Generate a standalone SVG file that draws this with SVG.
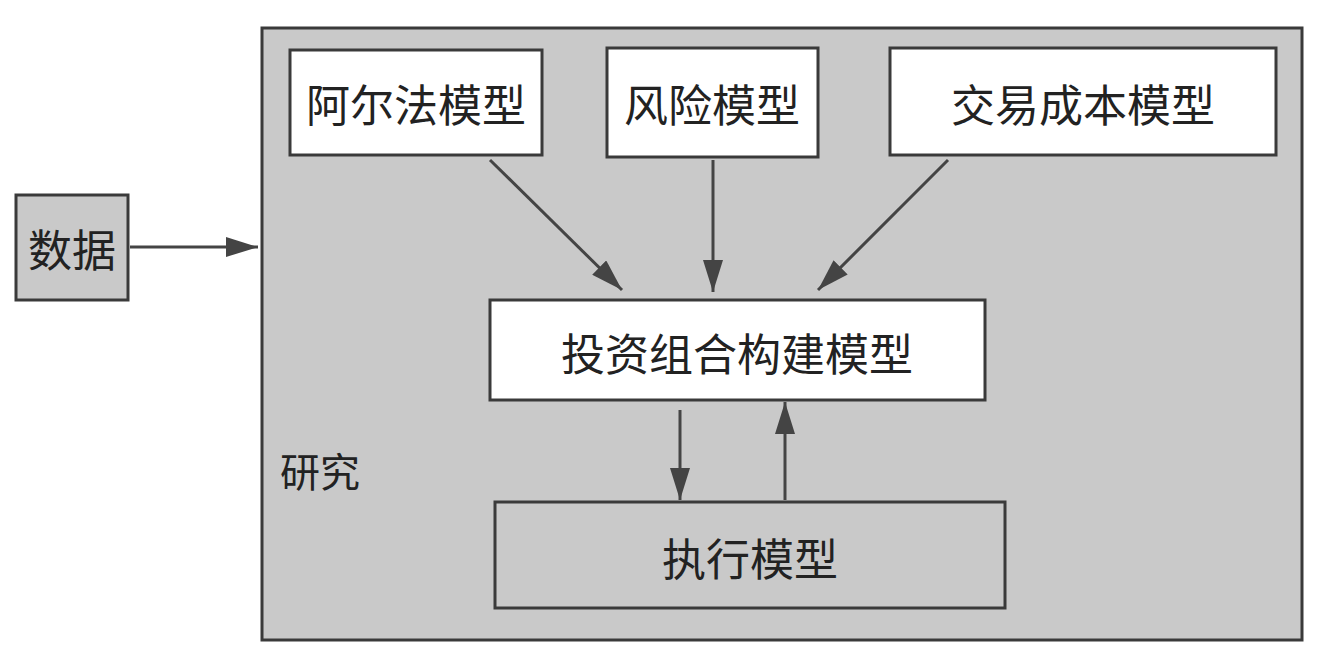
<svg xmlns="http://www.w3.org/2000/svg" width="1321" height="667" viewBox="0 0 1321 667">
<defs>
<style>
.g{fill:#c9c9c9;stroke:#3a3a3a;stroke-width:3}
.w{fill:#ffffff;stroke:#3a3a3a;stroke-width:3}
.t{font-family:"Noto Sans CJK SC",sans-serif;font-size:44px;fill:#222;text-anchor:middle;dominant-baseline:central}
.c{stroke:#444;stroke-width:3;fill:none;marker-end:url(#a)}
</style>
<marker id="a" viewBox="0 0 10 10" refX="10" refY="5" markerWidth="32" markerHeight="20" markerUnits="userSpaceOnUse" orient="auto" preserveAspectRatio="none">
<path d="M0,0 L10,5 L0,10 z" fill="#444"/>
</marker>
</defs>
<rect width="1321" height="667" fill="#fff"/>
<g id="research"><rect class="g" x="262" y="28" width="1040" height="612"/><text class="t" x="320" y="470" style="font-size:40px">研究</text></g>
<g id="data"><rect class="g" x="16" y="195" width="112" height="105"/><text class="t" x="72" y="248">数据</text></g>
<g id="alpha"><rect class="w" x="290" y="50" width="252" height="105"/><text class="t" x="416" y="103">阿尔法模型</text></g>
<g id="risk"><rect class="w" x="607" y="48" width="211" height="109"/><text class="t" x="712" y="103">风险模型</text></g>
<g id="cost"><rect class="w" x="890" y="48" width="386" height="107"/><text class="t" x="1083" y="103">交易成本模型</text></g>
<g id="portfolio"><rect class="w" x="490" y="300" width="495" height="100"/><text class="t" x="737" y="352">投资组合构建模型</text></g>
<g id="exec"><rect class="g" x="495" y="502" width="510" height="106"/><text class="t" x="750" y="557">执行模型</text></g>
<g id="connectors">
<line class="c" x1="130" y1="247" x2="258" y2="247"/>
<line class="c" x1="490" y1="160" x2="622" y2="290"/>
<line class="c" x1="713" y1="160" x2="713" y2="292"/>
<line class="c" x1="948" y1="160" x2="818" y2="290"/>
<line class="c" x1="680" y1="410" x2="680" y2="500"/>
<line class="c" x1="785" y1="500" x2="785" y2="402"/>
</g>
</svg>
